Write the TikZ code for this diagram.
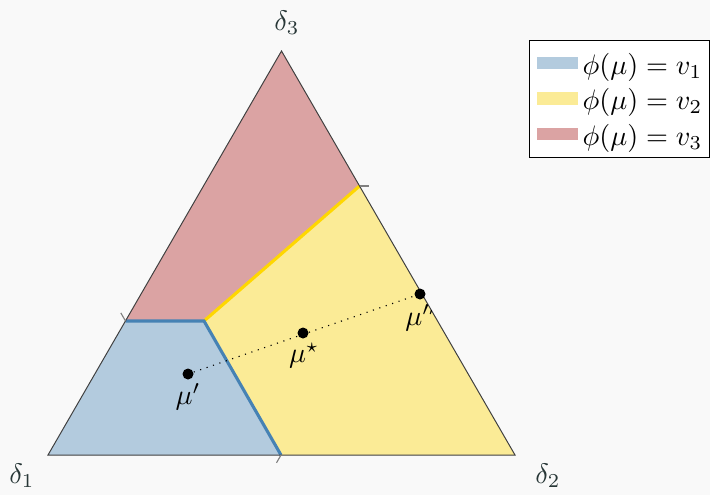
\documentclass[tikz,border=0pt]{standalone}
\usepackage{amsmath}
\usepackage{tikz}
\usetikzlibrary{positioning,calc}
\definecolor{regblue}{RGB}{179,203,222}
\definecolor{regyellow}{RGB}{251,235,150}
\definecolor{regred}{RGB}{219,163,163}
\definecolor{edgeblue}{RGB}{70,130,180}
\definecolor{edgegold}{RGB}{255,215,0}
\definecolor{bgpaper}{RGB}{249,249,249}
\definecolor{axislab}{RGB}{40,55,55}

\begin{document}
\begin{tikzpicture}[x=0.3546pt,y=-0.3546pt,
  dot/.style={circle,fill=black,inner sep=0pt,minimum size=3.9pt},
  swatch/.style={rectangle,inner sep=0pt,minimum width=14.5pt,minimum height=4.6pt}]
  % background and page size
  \fill[bgpaper] (0,0) rectangle (710,495);
  \useasboundingbox (0,0) rectangle (710,495);
  % simplex corners and region boundary points
  \coordinate (d1) at (48,455);
  \coordinate (d2) at (515,455);
  \coordinate (d3) at (281.5,51);
  \coordinate (p) at (125.5,321);
  \coordinate (q) at (204,321);
  \coordinate (r) at (281,455);
  \coordinate (s) at (359.5,186);
  % decision regions
  \fill[regblue] (d1) -- (r) -- (q) -- (p) -- cycle;
  \fill[regyellow] (r) -- (d2) -- (s) -- (q) -- cycle;
  \fill[regred] (p) -- (q) -- (s) -- (d3) -- cycle;
  \draw[edgegold,line width=1.1pt] (q) -- (s);
  \draw[edgeblue,line width=1.1pt] (p) -- (q) -- (r);
  \draw[black!75,line width=0.35pt] (d1) -- (d2) -- (d3) -- cycle;
  % axis ticks
  \draw[gray,line width=0.4pt] (p) -- ++(-4.7,-8.1);
  \draw[gray,line width=0.4pt] (s) -- ++(9.5,0);
  \draw[gray,line width=0.4pt] (r) -- ++(-4.5,7.8);
  % corner labels
  \node[axislab] (l1) at (22,476) {$\delta_1$};
  \node[axislab] (l2) at (548,476) {$\delta_2$};
  \node[axislab] (l3) at (287,23) {$\delta_3$};
  % beliefs on a line
  \node[dot] (mup) at (188,374) {};
  \node[dot] (mus) at (303,333) {};
  \node[dot] (mupp) at (420,294) {};
  \draw[dotted,line width=0.4pt] (mup) -- (mupp);
  \node (lmup) at (188,397) {$\mu'$};
  \node (lmus) at (304,356) {$\mu^\star$};
  \begin{scope}
    \clip (d1) -- (d2) -- (d3) -- cycle;
    \node (lmupp) at (421,318) {$\mu''$};
  \end{scope}
  % legend
  \node[draw=black,fill=white,line width=0.4pt,anchor=north west,
        minimum width=63.8pt,minimum height=41.5pt] (legend) at (529,40) {};
  \foreach \i/\c/\y in {1/regblue/63,2/regyellow/98.5,3/regred/134}{
    \node[swatch,fill=\c] (sw\i) at (557.5,\y) {};
    \node[anchor=west,inner sep=0pt] (lg\i) at (582,\y+4) {$\phi(\mu) = v_{\i}$};
  }
\end{tikzpicture}
\end{document}
